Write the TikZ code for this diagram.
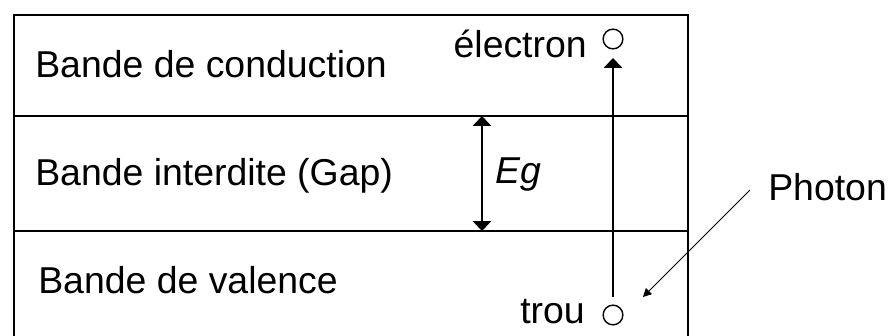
\documentclass[tikz,border=0pt]{standalone}
\usepackage{fontspec}
\setmainfont{Liberation Sans}
\usetikzlibrary{positioning,arrows.meta}

\begin{document}
\begin{tikzpicture}[
  x=0.025cm, y=-0.025cm,
  lbl/.style={inner sep=0pt, font=\fontsize{26.6}{30}\selectfont},
  band/.style={line width=1.3pt},
  state/.style={draw, circle, line width=1pt, minimum size=14pt, inner sep=0pt},
  arrow/.style={-{Triangle[width=13pt,length=7pt]}, line width=1pt},
  darrow/.style={{Triangle[width=13pt,length=7pt]}-{Triangle[width=13pt,length=7pt]}, line width=1pt},
  photarrow/.style={-{Triangle[width=6pt,length=6pt]}, line width=0.6pt}
]
\useasboundingbox (0,0) rectangle (890,336);

\draw[band] (14,340) -- (14,15) -- (688,15) -- (688,340);
\draw[band] (14,116) -- (688,116);
\draw[band] (14,231) -- (688,231);

\node[lbl, anchor=base west] (cond) at (35,77) {Bande de conduction};
\node[lbl, anchor=base west] (gap) at (35,185) {Bande interdite (Gap)};
\node[lbl, anchor=base west] (val) at (38,293) {Bande de valence};

\node[state] (elec) at (613,39) {};
\node[state] (hole) at (613,315) {};
\node[lbl, anchor=base east] (electxt) at (587,57) {électron};
\node[lbl, anchor=base east] (holetxt) at (585,323) {trou};
\node[lbl, anchor=base west] (eg) at (495,183) {\itshape Eg};
\node[lbl, anchor=base west] (photon) at (768,200) {Photon};

\coordinate (egtop) at (482,116);
\coordinate (egbot) at (482,231);
\coordinate (phsrc) at (750,190);
\coordinate (phdst) at (643,297);

\draw[darrow] (egtop) -- (egbot);
\draw[arrow, shorten <=5pt, shorten >=6pt] (hole) -- (elec);
\draw[photarrow] (phsrc) -- (phdst);
\end{tikzpicture}
\end{document}
